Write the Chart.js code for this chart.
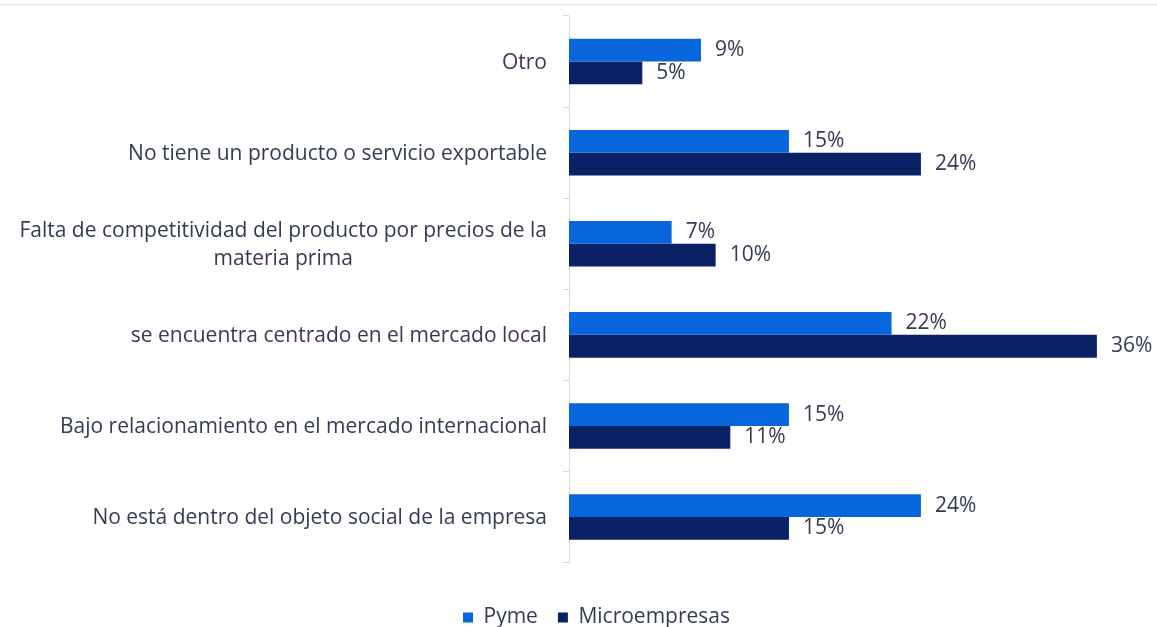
<!DOCTYPE html>
<html>
<head>
<meta charset="utf-8">
<script src="https://cdn.jsdelivr.net/npm/chart.js@4"></script>
<style>
  html, body { margin: 0; padding: 0; background: #fff; }
  #wrap { width: 1157px; height: 627px; position: relative; }
  #topline { position: absolute; left: 0; right: 0; top: 4px; height: 1px; background: #e2e2e2; }
</style>
</head>
<body>
<div id="wrap"><div id="topline"></div><canvas id="chart"></canvas></div>
<script>
// ---- data ----
const categories = [
  ['Otro'],
  ['No tiene un producto o servicio exportable'],
  ['Falta de competitividad del producto por precios de la', 'materia prima'],
  ['se encuentra centrado en el mercado local'],
  ['Bajo relacionamiento en el mercado internacional'],
  ['No está dentro del objeto social de la empresa']
];
const pyme = [9, 15, 7, 22, 15, 24];
const micro = [5, 24, 10, 36, 11, 15];

const textColor = '#343b52';
const fontFamily = '"Open Sans", Lato, sans-serif';
const fontSize = 21;

// category labels drawn by hand so the wrapped one stays centred
const catLabels = {
  id: 'catLabels',
  afterDraw(chart) {
    const { ctx, scales: { y } } = chart;
    ctx.save();
    ctx.fillStyle = textColor;
    ctx.font = fontSize + 'px ' + fontFamily;
    ctx.textBaseline = 'middle';
    ctx.textAlign = 'center';
    const right = y.right - 22;
    categories.forEach((lines, i) => {
      const yc = y.getPixelForValue(i) + 1;
      const lh = 28;
      const maxW = Math.max(...lines.map(l => ctx.measureText(l).width));
      lines.forEach((l, j) => {
        ctx.fillText(l, right - maxW / 2, yc + (j - (lines.length - 1) / 2) * lh);
      });
    });
    ctx.restore();
  }
};

// value labels at the end of each bar
const valueLabels = {
  id: 'valueLabels',
  afterDatasetsDraw(chart) {
    const { ctx } = chart;
    ctx.save();
    ctx.fillStyle = textColor;
    ctx.font = fontSize + 'px ' + fontFamily;
    ctx.textAlign = 'left';
    ctx.textBaseline = 'middle';
    chart.data.datasets.forEach((ds, di) => {
      chart.getDatasetMeta(di).data.forEach((bar, i) => {
        ctx.fillText(ds.data[i] + '%', bar.x + 14, bar.y);
      });
    });
    ctx.restore();
  }
};

// legend sits a little right of the canvas centre in the original
const legendShift = {
  id: 'legendShift',
  afterLayout(chart) {
    chart.legend.left += 18;
    chart.legend.right += 18;
  }
};

new Chart(document.getElementById('chart'), {
  type: 'bar',
  data: {
    labels: categories.map(c => c.join(' ')),
    datasets: [
      { label: 'Pyme', data: pyme, backgroundColor: '#0866dc' },
      { label: 'Microempresas', data: micro, backgroundColor: '#0b2165' }
    ]
  },
  options: {
    indexAxis: 'y',
    responsive: true,
    maintainAspectRatio: false,
    animation: false,
    categoryPercentage: 0.5,
    barPercentage: 1.0,
    layout: { padding: { top: 16, right: 0, left: 0, bottom: -11 } },
    scales: {
      x: {
        display: false,
        min: 0,
        max: 40.1
      },
      y: {
        afterFit(scale) { scale.width = 569; },
        border: { color: '#d9d9d9' },
        grid: { drawOnChartArea: false, tickLength: 6, color: '#d9d9d9' },
        ticks: { display: false }
      }
    },
    plugins: {
      legend: {
        position: 'bottom',
        title: { display: true, text: ' ', font: { size: 12 }, padding: { top: 10, bottom: 0 } },
        labels: {
          color: textColor,
          font: { family: fontFamily, size: fontSize },
          boxWidth: 10,
          boxHeight: 10,
          padding: 20
        }
      },
      tooltip: { enabled: false }
    }
  },
  plugins: [catLabels, valueLabels, legendShift]
});
</script>
</body>
</html>
